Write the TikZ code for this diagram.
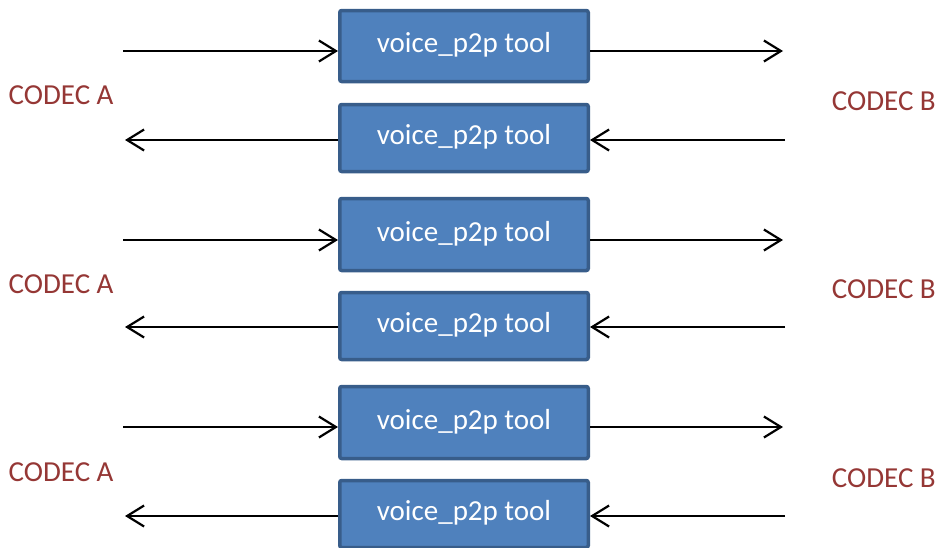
\documentclass[tikz,border=0pt]{standalone}
\usepackage{fontspec}
\setmainfont{Carlito}
\usetikzlibrary{arrows.meta}
\definecolor{toolblue}{HTML}{4F81BD}
\definecolor{toolborder}{HTML}{385D8A}
\definecolor{codecred}{HTML}{953735}
\begin{document}
\begin{tikzpicture}
  [x=1pt,y=-1pt,
   tool/.style={rectangle,draw=toolborder,fill=toolblue,line width=3.5pt,rounded corners=2pt,
     minimum width=248.5pt,minimum height=67pt,text=white,
     font=\fontsize{29}{34}\selectfont,text height=22pt,text depth=9pt},
   codec/.style={text=codecred,font=\fontsize{29}{34}\selectfont,inner sep=0pt}]
  \useasboundingbox (0,0) rectangle (937,547);

  \node[tool,minimum height=71pt] (b1) at (464,46)    {voice\_p2p tool};
  \node[tool]                     (b2) at (464,138)   {voice\_p2p tool};
  \node[tool,minimum height=72pt] (b3) at (464,234.5) {voice\_p2p tool};
  \node[tool]                     (b4) at (464,326)   {voice\_p2p tool};
  \node[tool,minimum height=72pt] (b5) at (464,422.5) {voice\_p2p tool};
  \node[tool]                     (b6) at (464,514)   {voice\_p2p tool};

  \node[codec,anchor=base west] (ca1) at (8.5,104) {CODEC A};
  \node[codec,anchor=base west] (ca2) at (8.5,293) {CODEC A};
  \node[codec,anchor=base west] (ca3) at (8.5,481) {CODEC A};
  \node[codec,anchor=base east] (cb1) at (936,110) {CODEC B};
  \node[codec,anchor=base east] (cb2) at (936,298) {CODEC B};
  \node[codec,anchor=base east] (cb3) at (936,487) {CODEC B};

  % free ends of the wires
  \coordinate (a1) at (123,51);  \coordinate (c1) at (783,51);
  \coordinate (a2) at (125,140); \coordinate (c2) at (785,140);
  \coordinate (a3) at (123,240); \coordinate (c3) at (783,240);
  \coordinate (a4) at (125,327); \coordinate (c4) at (785,327);
  \coordinate (a5) at (123,427); \coordinate (c5) at (783,427);
  \coordinate (a6) at (125,516); \coordinate (c6) at (785,516);

\path[every edge/.style={draw,line width=2.2pt,-{Straight Barb[length=17pt,width=21pt]}}]
    (a1) edge (a1 -| b1.west)
    (b1.east |- c1) edge (c1)
    (b2.west |- a2) edge (a2)
    (c2) edge (c2 -| b2.east)
    (a3) edge (a3 -| b3.west)
    (b3.east |- c3) edge (c3)
    (b4.west |- a4) edge (a4)
    (c4) edge (c4 -| b4.east)
    (a5) edge (a5 -| b5.west)
    (b5.east |- c5) edge (c5)
    (b6.west |- a6) edge (a6)
    (c6) edge (c6 -| b6.east)
    ;

\end{tikzpicture}
\end{document}
